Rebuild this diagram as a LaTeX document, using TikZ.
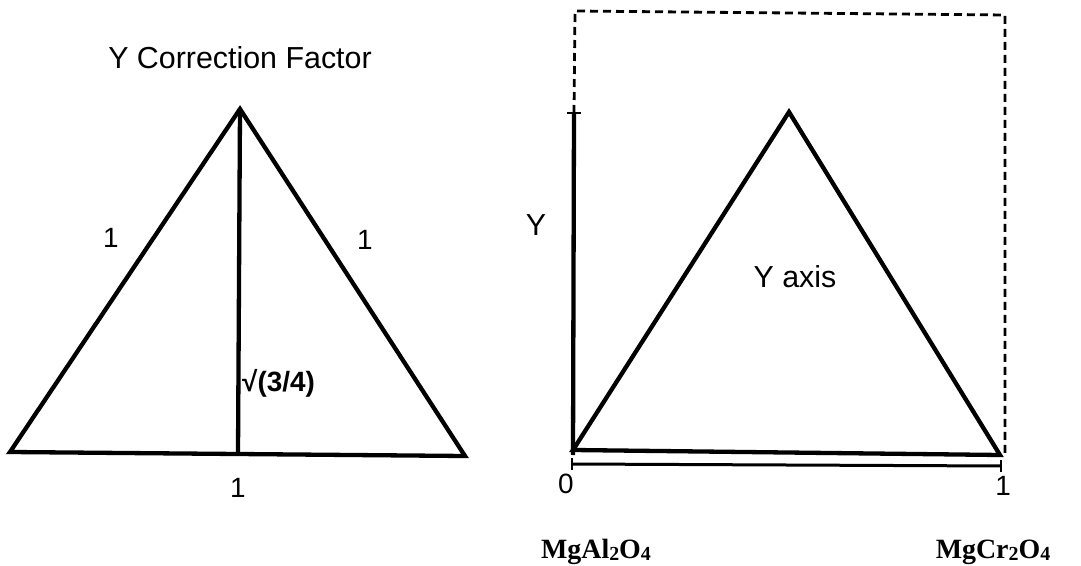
\documentclass[tikz,border=0pt]{standalone}
\usepackage{fontspec}
\setmainfont{Liberation Sans}
\newfontfamily\chemfont{Liberation Serif}
\newcommand\chemsub[1]{\raisebox{-0.15ex}{\fontsize{20}{20}\selectfont #1}}
\begin{document}
\begin{tikzpicture}[x=1bp,y=-1bp,
  solidline/.style={line width=4.3bp,line join=miter,line cap=butt},
  axisline/.style={line width=3bp},
  dashline/.style={line width=2.8bp,dash pattern=on 8bp off 5bp},
  lbl/.style={font=\fontsize{30.5}{30.5}\selectfont,inner sep=0pt},
  numlbl/.style={font=\fontsize{28}{28}\selectfont,inner sep=0pt},
  chem/.style={font=\chemfont\bfseries\fontsize{28}{28}\selectfont,inner sep=0pt}]
\useasboundingbox (0,0) rectangle (1081,566);
% ---------- left triangle ----------
\coordinate (LA) at (10,452);
\coordinate (LT) at (240,109);
\coordinate (LB) at (465,456);
\coordinate (LF) at (238,454);
\draw[solidline] (LA) -- (LT) -- (LB) -- cycle;
\draw[solidline] (LT) -- (LF);
\node[lbl] (title) at (240,58) {Y Correction Factor};
\node[numlbl] (sideL) at (111,238) {1};
\node[numlbl] (sideR) at (365,240) {1};
\node[numlbl] (baseL) at (238,488) {1};
\node[font=\bfseries\fontsize{28}{28}\selectfont,inner sep=0pt,anchor=west] (root) at (242,383) {√(3/4)};
% ---------- right diagram ----------
\coordinate (RTL) at (575,11);
\coordinate (RTR) at (1005,15);
\coordinate (RBR) at (1005,455);
\coordinate (Ytick) at (574,113);
\coordinate (O) at (573,455);
\draw[dashline] (Ytick) -- (RTL) -- (RTR) -- (RBR);
\draw[solidline] (Ytick) -- (O);
\draw[line width=2.4bp] ([xshift=-7bp]Ytick) -- ([xshift=7bp]Ytick);
\coordinate (RA) at (573,450);
\coordinate (RT) at (789,112);
\coordinate (RB) at (1000,455);
\draw[solidline] (RA) -- (RT) -- (RB) -- cycle;
% x axis
\coordinate (X0) at (572,464);
\coordinate (X1) at (1001,466);
\draw[axisline] (X0) -- (X1);
\draw[line width=2.4bp] ([yshift=-6bp]X0) -- ([yshift=6bp]X0);
\draw[line width=2.4bp] ([yshift=-6bp]X1) -- ([yshift=6bp]X1);
\node[numlbl] (zero) at (566,484) {0};
\node[numlbl] (one) at (1003,486) {1};
\node[lbl] (ylab) at (536,225) {Y};
\node[lbl] (yaxis) at (795,277) {Y axis};
\node[chem] (mgal) at (596,552) {MgAl\chemsub{2}O\chemsub{4}};
\node[chem] (mgcr) at (993,552) {MgCr\chemsub{2}O\chemsub{4}};
\end{tikzpicture}
\end{document}
